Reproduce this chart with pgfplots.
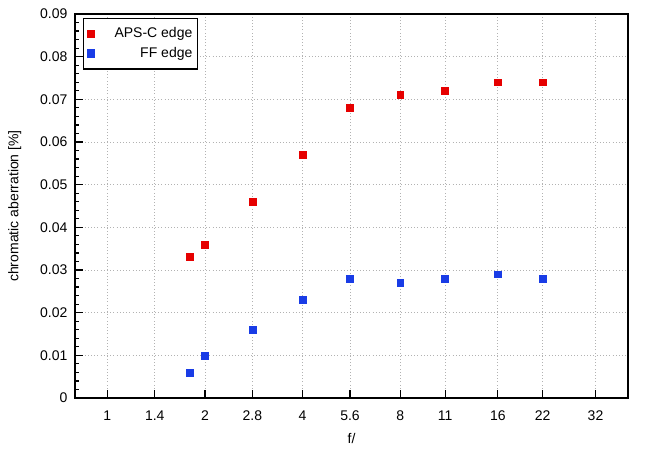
\documentclass[border=0pt]{standalone}
\usepackage{fontspec}
\setmainfont{Liberation Sans}
\usepackage{pgfplots}
\pgfplotsset{compat=1.18}
\definecolor{myred}{RGB}{230,0,0}
\definecolor{myblue}{RGB}{25,60,230}
\begin{document}
\fontsize{10.5}{12.6}\selectfont
\begin{tikzpicture}
\useasboundingbox (-56.25pt,-39pt) rectangle (414.75pt+16.5pt,288pt+10.5pt);
\begin{axis}[
  at={(0,0)}, anchor=south west,
  scale only axis,
  width=414.75pt, height=288pt,
  xmode=log, log basis x=2,
  xmin=0.795, xmax=40.3,
  ymin=0, ymax=0.09,
  scaled y ticks=false,
  xtick={1,1.4,2,2.8,4,5.6,8,11,16,22,32},
  xticklabels={1,1.4,2,2.8,4,5.6,8,11,16,22,32},
  ytick={0,0.01,...,0.09},
  yticklabels={0,0.01,0.02,0.03,0.04,0.05,0.06,0.07,0.08,0.09},
  minor y tick num=4,
  xminorticks=false,
  tick align=inside,
  xtick pos=bottom, ytick pos=left,
  major tick length=6pt, minor tick length=3pt,
  tick style={black, line width=0.9pt},
  axis line style={line width=0.9pt},
  grid=major,
  major grid style={gray!60, dotted, line width=0.6pt},
  xlabel={f/}, ylabel={chromatic aberration [\%]},
  xlabel style={yshift=-2pt},
  ylabel style={yshift=7pt},
  ticklabel style={font=\fontsize{10.5}{12.6}\selectfont},
  label style={font=\fontsize{10.5}{12.6}\selectfont},
  xticklabel style={yshift=-6pt},
  yticklabel style={xshift=-2pt},
  legend cell align=right,
  legend style={at={(rel axis cs:0.0145,0.99)}, anchor=north west, draw=black, line width=0.9pt, font=\fontsize{10.5}{12.6}\selectfont, row sep=1.5pt, inner xsep=3pt, inner ysep=5pt, nodes={inner xsep=1pt, inner ysep=2pt}, /tikz/every odd column/.append style={column sep=14pt}},
  every axis plot/.append style={only marks, mark=square*, mark size=2.6pt},
]
\addplot[myred, mark options={fill=myred, draw=myred}] coordinates {
 (1.8,0.033) (2,0.036) (2.8,0.046) (4,0.057) (5.6,0.068) (8,0.071) (11,0.072) (16,0.074) (22,0.074)};
\addlegendentry{APS-C edge}
\addplot[myblue, mark options={fill=myblue, draw=myblue}] coordinates {
 (1.8,0.006) (2,0.010) (2.8,0.016) (4,0.023) (5.6,0.028) (8,0.027) (11,0.028) (16,0.029) (22,0.028)};
\addlegendentry{FF edge}
\end{axis}
\end{tikzpicture}
\end{document}
